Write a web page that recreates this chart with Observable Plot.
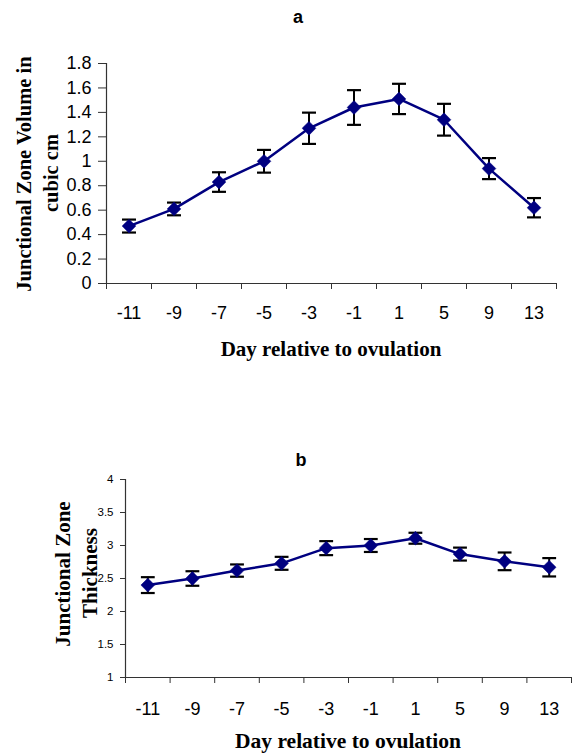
<!DOCTYPE html>
<html>
<head>
<meta charset="utf-8">
<script src="https://cdn.jsdelivr.net/npm/d3@7"></script>
<script src="https://cdn.jsdelivr.net/npm/@observablehq/plot@0.6"></script>
<style>
  html, body { margin: 0; padding: 0; background: #fff; }
  #wrap { position: relative; width: 578px; height: 754px; overflow: hidden; }
  .panel { position: absolute; left: 0; }
  #overlay { position: absolute; left: 0; top: 0; pointer-events: none; }
</style>
</head>
<body>
<div id="wrap">
  <div id="pa" class="panel" style="top:0"></div>
  <div id="pb" class="panel" style="top:400px"></div>
  <svg id="overlay" width="578" height="754"></svg>
</div>
<script>
// ---- data ----
const days = ["-11", "-9", "-7", "-5", "-3", "-1", "1", "5", "9", "13"];
const volumeA = [0.47, 0.61, 0.83, 1.00, 1.27, 1.44, 1.51, 1.34, 0.94, 0.62];
const volumeErrA = [0.053, 0.052, 0.08, 0.093, 0.128, 0.142, 0.124, 0.13, 0.086, 0.079];
const thickB = [2.40, 2.50, 2.62, 2.73, 2.96, 3.00, 3.11, 2.87, 2.76, 2.67];
const thickErrB = [0.12, 0.11, 0.093, 0.098, 0.106, 0.098, 0.083, 0.098, 0.134, 0.139];
const yTicksA = [0, 0.2, 0.4, 0.6, 0.8, 1, 1.2, 1.4, 1.6, 1.8];
const yTicksB = [1, 1.5, 2, 2.5, 3, 3.5, 4];

const navy = "#000080";
const sans = "'Liberation Sans', Arial, sans-serif";
const serif = "'Liberation Serif', 'Times New Roman', serif";

function rows(vals, errs) {
  return days.map((d, i) => ({pos: i + 0.5, day: d, v: vals[i], e: errs[i]}));
}
const centers = days.map((d, i) => i + 0.5);
const bounds = d3.range(days.length + 1);
const capHalf = 0.155;

function panel(data, opts) {
  return Plot.plot({
    width: 578,
    height: opts.height,
    marginLeft: opts.ml, marginRight: opts.mr, marginTop: opts.mt, marginBottom: opts.mb,
    style: {fontFamily: sans, color: "#000", background: "transparent", overflow: "visible"},
    x: {type: "linear", domain: [0, days.length], axis: null, label: null},
    y: {domain: opts.ydomain, axis: null, label: null},
    marks: [
      Plot.axisY({ticks: opts.yticks, tickSize: opts.ytickSize, tickPadding: opts.ytickPad,
        fontSize: opts.yfont, tickFormat: d => String(d), stroke: "#333", label: null}),
      Plot.axisX({ticks: bounds, tickSize: 6, tickFormat: () => "", stroke: "#333", label: null}),
      Plot.axisX({ticks: centers, tickSize: 0, tickPadding: opts.xtickPad, fontSize: 18,
        tickFormat: p => days[Math.round(p - 0.5)], label: null}),
      Plot.ruleX([0], {stroke: "#333", strokeWidth: 1.2}),
      Plot.ruleY([opts.ydomain[0]], {stroke: "#333", strokeWidth: 1.2}),
      // error bars
      Plot.ruleX(data, {x: "pos", y1: d => d.v - d.e, y2: d => d.v + d.e, stroke: "#000", strokeWidth: 2}),
      Plot.link(data, {x1: d => d.pos - capHalf, x2: d => d.pos + capHalf, y1: d => d.v + d.e, y2: d => d.v + d.e, stroke: "#000", strokeWidth: 2.2}),
      Plot.link(data, {x1: d => d.pos - capHalf, x2: d => d.pos + capHalf, y1: d => d.v - d.e, y2: d => d.v - d.e, stroke: "#000", strokeWidth: 2.2}),
      Plot.line(data, {x: "pos", y: "v", stroke: navy, strokeWidth: 2.5}),
      Plot.dot(data, {x: "pos", y: "v", symbol: "diamond2", r: 6.2, fill: navy, stroke: navy, strokeWidth: 0.5})
    ]
  });
}

document.getElementById("pa").appendChild(panel(rows(volumeA, volumeErrA), {
  height: 370, ml: 106, mr: 22, mt: 63, mb: 87,
  ydomain: [0, 1.8], yticks: yTicksA, ytickSize: 8, ytickPad: 7, yfont: 18, xtickPad: 23
}));
document.getElementById("pb").appendChild(panel(rows(thickB, thickErrB), {
  height: 354, ml: 125, mr: 7, mt: 79, mb: 77,
  ydomain: [1, 4], yticks: yTicksB, ytickSize: 5, ytickPad: 7, yfont: 11.5, xtickPad: 25
}));

// ---- titles & axis labels ----
const ov = d3.select("#overlay");
function txt(x, y, s, size, family, rot) {
  const t = ov.append("text").attr("x", x).attr("y", y).attr("text-anchor", "middle")
    .attr("font-family", family).attr("font-weight", "bold").attr("font-size", size)
    .attr("fill", "#000").text(s);
  if (rot) t.attr("transform", `rotate(-90,${x},${y})`);
}
txt(298, 23, "a", 18, sans);
txt(301, 466, "b", 18, sans);
txt(331, 356, "Day relative to ovulation", 21, serif);
txt(348, 748, "Day relative to ovulation", 21.5, serif);
txt(31, 174, "Junctional Zone Volume in", 20.5, serif, true);
txt(58, 173, "cubic cm", 20.5, serif, true);
txt(70, 574, "Junctional Zone", 21, serif, true);
txt(97, 573, "Thickness", 21, serif, true);
</script>
</body>
</html>
